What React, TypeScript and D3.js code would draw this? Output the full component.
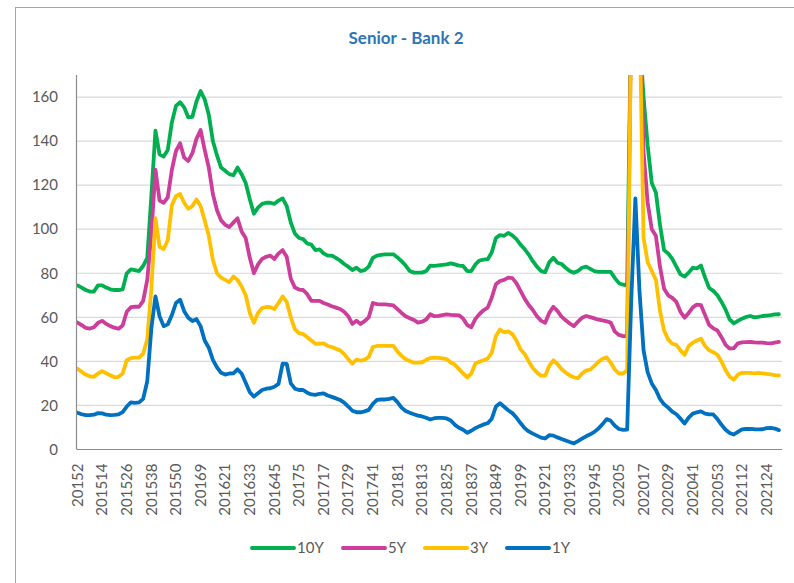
import * as d3 from "d3";

// weekly categories, labelled year + week number (no zero padding)
const yearWeeks: [number, number][] = [
  [2015, 53], [2016, 52], [2017, 52], [2018, 52], [2019, 52], [2020, 53], [2021, 31],
];
const firstWeek = 2;
const weeks: string[] = [];
yearWeeks.forEach(([yr, n], k) => {
  for (let w = k === 0 ? firstWeek : 1; w <= n; w++) weeks.push(`${yr}${w}`);
});
// values are read every second week
const sampleWeeks = weeks.filter((_, i) => i % 2 === 0);
const tickWeeks = weeks.filter((_, i) => i % 12 === 0);
const yTicks = [0, 20, 40, 60, 80, 100, 120, 140, 160];

const y10 = [
  74.5, 73.5, 72.4, 71.7, 71.7, 74.5, 74.5, 73.5, 72.7, 72.4,
  72.4, 72.7, 80, 81.8, 81.4, 81, 83.3, 87, 115, 144.7,
  134, 133, 136, 148.5, 156, 157.6, 155.3, 150.8, 151, 158,
  162.7, 159, 152, 140, 133.5, 128, 126.5, 125, 124.5, 128,
  125, 121, 113.6, 107, 109.8, 111.5, 112, 112, 111.5, 113,
  114, 110.5, 103, 98, 96, 95.5, 93.5, 93, 90.5, 90.8,
  89, 88, 88, 87, 85.8, 84.2, 83, 81.5, 82.5, 81,
  81.4, 83, 87, 88, 88.3, 88.6, 88.6, 88.6, 87.2, 85.5,
  83.5, 81, 80.3, 80.3, 80.3, 81, 83.5, 83.4, 83.6, 83.8,
  84, 84.5, 84, 83.5, 83.3, 81, 81, 84, 85.8, 86.2,
  86.4, 89.5, 96, 97.3, 97, 98.3, 97.2, 95.5, 93, 91,
  88.5, 85.5, 83, 81, 80.5, 85, 87, 84.8, 84.2, 82.5,
  81, 80.2, 81, 82.5, 83, 82, 81, 80.6, 80.6, 80.6,
  80.6, 77.8, 75.5, 74.8, 74.5, 202, 225, 188, 160, 138,
  121, 116.7, 102, 90.5, 89, 86.5, 83, 79.5, 78.5, 80.3,
  82.5, 82.2, 83.5, 78, 73.3, 72, 70, 67, 63.5, 59,
  57.3, 58.4, 59.4, 60.2, 60.6, 60, 60.2, 60.6, 60.8, 61,
  61.3, 61.4,
];

const y5 = [
  57.6, 56.5, 55.2, 54.9, 55.5, 57.5, 58.4, 57, 56, 55.3,
  54.8, 56.3, 62.5, 64.6, 64.8, 64.8, 67.5, 77, 98, 127,
  113, 112, 114.5, 127, 135.5, 139, 132.5, 131, 134.5, 141,
  145, 136, 128, 116, 108.6, 104, 102, 101, 103, 105,
  99, 96, 87, 80, 84, 86.5, 87.5, 88, 86.5, 89,
  90.5, 87.5, 77.5, 73.5, 72.6, 72.4, 70.5, 67.5, 67.5, 67.5,
  66.5, 65.8, 65, 64.4, 63.8, 62.5, 60.5, 57, 58.5, 57,
  58.3, 60, 66.5, 66, 65.9, 65.9, 65.7, 65.4, 63.7, 62,
  60.5, 59.6, 58.8, 57.6, 58, 59, 61.4, 60.5, 60.7, 61,
  61.3, 61.1, 61, 60.9, 59.5, 56.5, 55.5, 59.3, 61.5, 63.2,
  64.4, 69, 75, 76.5, 77, 78, 77.8, 75.5, 72, 68.5,
  65.6, 63.3, 60.5, 58.5, 57.5, 62, 64.8, 62.9, 60.3, 58.7,
  57.2, 56, 58, 59.8, 60.6, 60.1, 59.5, 58.9, 58.6, 58.2,
  57.6, 53.5, 52, 51.5, 51.5, 200, 230, 210, 135, 112,
  100, 97, 83, 73, 70, 68.8, 67, 62.5, 59.8, 62,
  64.5, 65.8, 65.5, 61, 56.5, 55, 54, 51, 47.5, 45.8,
  46, 48.2, 48.6, 48.7, 48.8, 48.6, 48.5, 48.5, 48.3, 48.2,
  48.5, 48.8,
];

const y3 = [
  36.7, 35.3, 34, 33.2, 33, 34.5, 35.6, 34.6, 33.7, 32.8,
  33, 34.5, 40.5, 41.5, 41.7, 41.7, 43.5, 50, 73, 105,
  92, 91, 95, 111, 115, 116, 112, 109.3, 110.5, 113.5,
  110.5, 104, 97, 86, 80, 78, 77, 76, 78.5, 77,
  74, 70, 62, 57.5, 62, 64.2, 64.7, 64.6, 63.8, 66.5,
  69.5, 67, 60, 54.5, 52.8, 52.4, 51, 49.5, 48, 48,
  48.2, 47, 46.5, 45.7, 45, 43.3, 41, 39, 40.8, 40.3,
  40.8, 42, 46.5, 47, 47, 47, 47, 47, 44.5, 42.5,
  41, 40.2, 39.4, 39.4, 39.6, 40.7, 41.5, 41.7, 41.6, 41.4,
  41, 39.5, 38.5, 36.5, 34.5, 32.8, 34.5, 39, 39.8, 40.5,
  41.3, 44, 51.5, 54.5, 53.2, 53.6, 52.4, 49.5, 45.5, 43.4,
  40, 37, 35, 33.5, 33.5, 38, 40.5, 38.8, 36.5, 35,
  33.6, 32.8, 32.4, 34.5, 35.8, 36.3, 38, 39.8, 41.2, 41.8,
  39.4, 36.3, 34.5, 34.5, 36, 200, 230, 200, 96, 85,
  81, 77, 63, 54, 50, 48, 47.5, 45, 43, 47,
  48.5, 49.5, 50.3, 47, 45, 44.2, 43, 40, 36, 33,
  31.7, 34, 34.8, 34.8, 34.8, 34.6, 34.8, 34.6, 34.3, 34.1,
  33.8, 33.6,
];

const y1 = [
  16.7, 16, 15.6, 15.6, 15.8, 16.5, 16.4, 15.8, 15.6, 15.7,
  15.9, 17, 19.5, 21.4, 21.2, 21.4, 23, 31, 55, 69.5,
  60.5, 56, 56.8, 61, 66.5, 68, 62.8, 59.8, 58.3, 59.2,
  56, 49.5, 46.2, 40.7, 37.3, 34.8, 34, 34.5, 34.6, 36.4,
  34.5, 30.3, 26, 24, 25.5, 27, 27.6, 27.8, 28.5, 29.8,
  39, 38.9, 30, 27.6, 27, 27, 25.8, 25, 24.8, 25.3,
  25.5, 24.5, 23.9, 23.2, 22.5, 21.3, 19.5, 17.6, 16.9, 16.9,
  17.3, 18, 20.7, 22.5, 22.7, 22.7, 23, 23.4, 21.5, 19,
  17.5, 16.7, 16, 15.4, 15, 14.4, 13.6, 14.2, 14.4, 14.4,
  14.1, 13.2, 11.2, 9.9, 9, 7.6, 8.5, 9.7, 10.6, 11.4,
  11.9, 14, 19.5, 21, 19.4, 17.8, 16.5, 14.5, 12, 9.7,
  8.2, 7.2, 6.3, 5.4, 5, 6.5, 6.3, 5.5, 4.8, 4.1,
  3.4, 2.8, 3.8, 4.9, 6, 6.9, 8, 9.5, 11.5, 13.8,
  13, 10.8, 9.3, 8.9, 9, 68, 114, 72, 45, 35,
  30, 27, 23, 20.5, 19, 17.2, 16, 14, 11.8, 14.5,
  16.3, 16.9, 17.3, 16.3, 15.9, 15.9, 13.8, 11.2, 9, 7.5,
  6.8, 8, 9.1, 9.3, 9.4, 9.2, 9.1, 9.2, 9.7, 9.8,
  9.5, 8.8,
];

const series = [
  { name: "10Y", color: "#00B050", values: y10 },
  { name: "5Y", color: "#CC3D9C", values: y5 },
  { name: "3Y", color: "#FFC000", values: y3 },
  { name: "1Y", color: "#0070C0", values: y1 },
];

const W = 794;
const H = 583;
const plot = { left: 76.5, right: 782, top: 75, bottom: 449.5 };
const font = "Lato, 'Liberation Sans', sans-serif";

export default function App() {
  const x = d3.scaleBand<string>().domain(weeks).range([plot.left, plot.right]).padding(0);
  const y = d3.scaleLinear().domain([0, 170]).range([plot.bottom, plot.top]);
  const cx = (w: string) => (x(w) ?? 0) + x.bandwidth() / 2;

  const line = d3
    .line<number>()
    .x((_, i) => cx(sampleWeeks[i]))
    .y(d => y(d));

  const legendX = [252, 343, 425, 507];

  return (
    <svg
      width={W}
      height={H}
      style={{ position: "absolute", left: 0, top: 0, background: "#fff" }}
    >
      <rect x={15.5} y={7.5} width={W} height={H} fill="#fff" stroke="#a6a6a6" />
      <text
        x={406}
        y={44}
        textAnchor="middle"
        fontFamily={font}
        fontWeight="bold"
        fontSize={17}
        fill="#2E75B6"
      >
        Senior - Bank 2
      </text>

      {yTicks.filter(t => t > 0).map(t => (
        <line key={t} x1={plot.left} x2={plot.right} y1={y(t)} y2={y(t)} stroke="#d9d9d9" strokeWidth={1.2} />
      ))}
      {yTicks.map(t => (
        <text
          key={t}
          x={58}
          y={y(t)}
          dy="0.35em"
          textAnchor="end"
          fontFamily={font}
          fontSize={15}
          fill="#595959"
        >
          {t}
        </text>
      ))}

      <defs>
        <clipPath id="plotClip">
          <rect x={plot.left} y={plot.top} width={plot.right - plot.left} height={plot.bottom - plot.top} />
        </clipPath>
      </defs>
      <g clipPath="url(#plotClip)">
        {series.map(s => (
          <path
            key={s.name}
            d={line(s.values) ?? ""}
            fill="none"
            stroke={s.color}
            strokeWidth={3.8}
            strokeLinejoin="round"
            strokeLinecap="round"
          />
        ))}
      </g>

      <line x1={plot.left} x2={plot.left} y1={plot.top} y2={plot.bottom} stroke="#8c8c8c" strokeWidth={1.2} />
      <line x1={plot.left} x2={plot.right} y1={plot.bottom} y2={plot.bottom} stroke="#8c8c8c" strokeWidth={1.2} />

      {tickWeeks.map(w => (
        <text
          key={w}
          transform={`translate(${cx(w)},${plot.bottom + 14}) rotate(-90)`}
          dy="0.35em"
          textAnchor="end"
          fontFamily={font}
          fontSize={15}
          fill="#595959"
        >
          {w}
        </text>
      ))}

      {series.map((s, i) => (
        <g key={s.name} transform={`translate(${legendX[i]},548)`}>
          <line x1={0} x2={42} y1={0} y2={0} stroke={s.color} strokeWidth={4} strokeLinecap="round" />
          <text x={45} y={0} dy="0.35em" fontFamily={font} fontSize={15} fill="#595959">
            {s.name}
          </text>
        </g>
      ))}
    </svg>
  );
}
